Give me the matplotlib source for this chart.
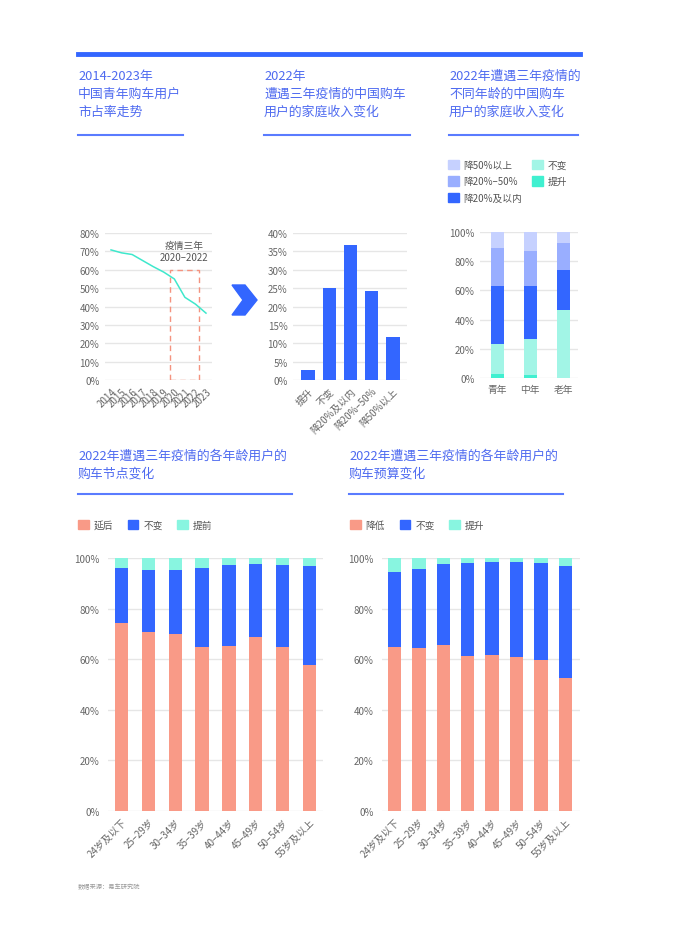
import numpy as np
import matplotlib
matplotlib.use("Agg")
import matplotlib.pyplot as plt
from matplotlib.patches import Polygon, Rectangle, Patch
from matplotlib.lines import Line2D
from matplotlib.ticker import PercentFormatter

plt.rcParams['font.family'] = ['Noto Sans CJK SC', 'DejaVu Sans']

# ------------------ data ------------------
years = [str(y) for y in range(2014, 2024)]
share = [70.8, 69.2, 68.3, 65.0, 61.7, 58.7, 55.0, 45.0, 41.3, 36.4]

income_cats = ["提升", "不变", "降20%及以内", "降20%–50%", "降50%以上"]
income_vals = [2.8, 24.9, 36.8, 24.2, 11.8]

age_groups = ["青年", "中年", "老年"]
up_age = [2.5, 2.3, 0.0]
same_age = [21.0, 24.7, 46.3]
drop20_age = [39.7, 36.2, 27.9]
drop20_50_age = [26.1, 24.0, 18.5]
drop50_age = [10.7, 12.8, 7.3]

ages = ["24岁及以下", "25–29岁", "30–34岁", "35–39岁", "40–44岁", "45–49岁", "50–54岁", "55岁及以上"]
delay = [74.5, 70.9, 70.1, 64.7, 65.4, 68.7, 64.9, 57.6]
same_t = [21.6, 24.2, 25.3, 31.4, 31.7, 28.8, 32.2, 39.2]
early = [3.9, 4.9, 4.6, 3.9, 2.9, 2.5, 2.9, 3.2]

lower = [64.9, 64.6, 65.7, 61.2, 61.6, 60.9, 59.7, 52.5]
same_b = [29.7, 31.2, 32.1, 37.0, 37.0, 37.4, 38.5, 44.5]
raise_b = [5.4, 4.2, 2.2, 1.8, 1.4, 1.7, 1.8, 3.0]

# ------------------ style ------------------
W, H = 673, 945
BLUE = "#3366FF"
TITLE = "#4F6BF0"
SALMON = "#F99A87"
AQUA = "#88F5E0"
TICK = "#666666"
GRID = "#E6E6E6"

fig = plt.figure(figsize=(W / 100, H / 100), dpi=100)


def px_axes(x0, y0, x1, y1):
    # pixel box (top-left origin) -> figure axes
    return fig.add_axes([x0 / W, 1 - y1 / H, (x1 - x0) / W, (y1 - y0) / H])


def style(ax, ymax, step):
    ax.set_ylim(0, ymax)
    ax.set_yticks(np.arange(0, ymax + 0.01, step))
    ax.yaxis.set_major_formatter(PercentFormatter(decimals=0))
    ax.grid(axis="y", color=GRID, lw=1)
    ax.set_axisbelow(True)
    for s in ax.spines.values():
        s.set_visible(False)
    ax.tick_params(length=0, labelsize=7, colors=TICK, pad=4)


def title(x, y, txt):
    fig.text(x / W, 1 - y / H, txt, color=TITLE, fontsize=9.3, va="top", ha="left", linespacing=1.5)


def hline(x0, x1, y, lw=1.5, color="#5A7BFF"):
    fig.add_artist(Line2D([x0 / W, x1 / W], [1 - y / H, 1 - y / H], color=color, lw=lw))


# top bar
hline(78, 580, 55, lw=3.5, color=BLUE)

# titles
title(78, 70, "2014-2023年\n中国青年购车用户\n市占率走势")
hline(78, 183, 136)
title(264, 70, "2022年\n遭遇三年疫情的中国购车\n用户的家庭收入变化")
hline(264, 410, 136)
title(449, 70, "2022年遭遇三年疫情的\n不同年龄的中国购车\n用户的家庭收入变化")
hline(449, 578, 136)
title(78, 450, "2022年遭遇三年疫情的各年龄用户的\n购车节点变化")
hline(78, 292, 495)
title(349, 450, "2022年遭遇三年疫情的各年龄用户的\n购车预算变化")
hline(349, 563, 495)

# ------------------ chart 1: line ------------------
ax1 = px_axes(105, 234, 212, 381)
style(ax1, 80, 10)
x = np.arange(len(years))
ax1.plot(x, share, color="#3FE8CC", lw=1.1)
ax1.set_xlim(-0.57, 9.57)
ax1.set_xticks(x)
ax1.set_xticklabels(years, rotation=45, ha="right", rotation_mode="anchor")
ax1.add_patch(Rectangle((5.6, 0), 2.75, 60, fill=False, ec="#F4937F", lw=1, ls=(0, (4, 3))))
ax1.text(6.9, 70.3, "疫情三年\n2020–2022", ha="center", va="center", fontsize=7, color="#555555",
         linespacing=1.25)

# chevron arrow
pts = [(232, 286), (245, 286), (257, 301), (245, 316), (232, 316), (243, 301)]
fig.add_artist(Polygon([(px / W, 1 - py / H) for px, py in pts], closed=True,
                       transform=fig.transFigure, color=BLUE))

# ------------------ chart 2: bars ------------------
ax2 = px_axes(293, 234, 407, 381)
style(ax2, 40, 5)
xi = np.arange(len(income_cats))
ax2.bar(xi, income_vals, width=0.62, color=BLUE)
ax2.set_xlim(-0.71, 4.66)
ax2.set_xticks(xi)
ax2.set_xticklabels(income_cats, rotation=45, ha="right", rotation_mode="anchor")

# ------------------ chart 3: stacked ------------------
ax3 = px_axes(480, 233, 578, 379)
style(ax3, 100, 20)
xa = np.arange(len(age_groups))
c3 = ["#40F0D0", "#A2F5E6", BLUE, "#99AEFF", "#C6D1FF"]
layers = [up_age, same_age, drop20_age, drop20_50_age, drop50_age]
bottom = np.zeros(len(age_groups))
for vals, c in zip(layers, c3):
    ax3.bar(xa, vals, bottom=bottom, width=0.4, color=c)
    bottom += np.array(vals)
ax3.set_xlim(-0.52, 2.45)
ax3.set_xticks(xa)
ax3.set_xticklabels(age_groups)
h3 = [Patch(color=c3[4]), Patch(color=c3[3]), Patch(color=c3[2]), Patch(color=c3[1]), Patch(color=c3[0])]
l3 = ["降50%以上", "降20%–50%", "降20%及以内", "不变", "提升"]
fig.legend(h3, l3, ncol=2, loc="upper left", bbox_to_anchor=(448 / W, 1 - 161 / H), frameon=False,
           fontsize=7, handlelength=1.1, handleheight=1.1, handletextpad=0.5, columnspacing=1.0,
           labelspacing=0.65, borderaxespad=0, borderpad=0, labelcolor="#555555")

# ------------------ chart 4 & 5: stacked by age ------------------
xb = np.arange(len(ages))


def stacked(box, series, colors, width, xlim):
    ax = px_axes(*box)
    style(ax, 100, 20)
    bottom = np.zeros(len(ages))
    for vals, c in zip(series, colors):
        ax.bar(xb, vals, bottom=bottom, width=width, color=c)
        bottom += np.array(vals)
    ax.set_xlim(*xlim)
    ax.set_xticks(xb)
    ax.set_xticklabels(ages, rotation=45, ha="right", rotation_mode="anchor")
    ax.tick_params(axis="y", pad=6)
    return ax


stacked((108, 559, 323, 812), [delay, same_t, early], [SALMON, BLUE, AQUA], 0.5, (-0.51, 7.51))
stacked((382, 559, 580, 812), [lower, same_b, raise_b], [SALMON, BLUE, AQUA], 0.55, (-0.51, 7.6))

fig.legend([Patch(color=SALMON), Patch(color=BLUE), Patch(color=AQUA)], ["延后", "不变", "提前"],
           ncol=3, loc="upper left", bbox_to_anchor=(78 / W, 1 - 521 / H), frameon=False,
           fontsize=7, handlelength=1.1, handleheight=1.1, handletextpad=0.5, columnspacing=1.5,
           borderaxespad=0, borderpad=0, labelcolor="#555555")
fig.legend([Patch(color=SALMON), Patch(color=BLUE), Patch(color=AQUA)], ["降低", "不变", "提升"],
           ncol=3, loc="upper left", bbox_to_anchor=(350 / W, 1 - 521 / H), frameon=False,
           fontsize=7, handlelength=1.1, handleheight=1.1, handletextpad=0.5, columnspacing=1.5,
           borderaxespad=0, borderpad=0, labelcolor="#555555")

fig.text(78 / W, 1 - 887 / H, "数据来源：易车研究院", fontsize=4.5, color="#999999", va="center")

fig.savefig("out.png", dpi=100)
